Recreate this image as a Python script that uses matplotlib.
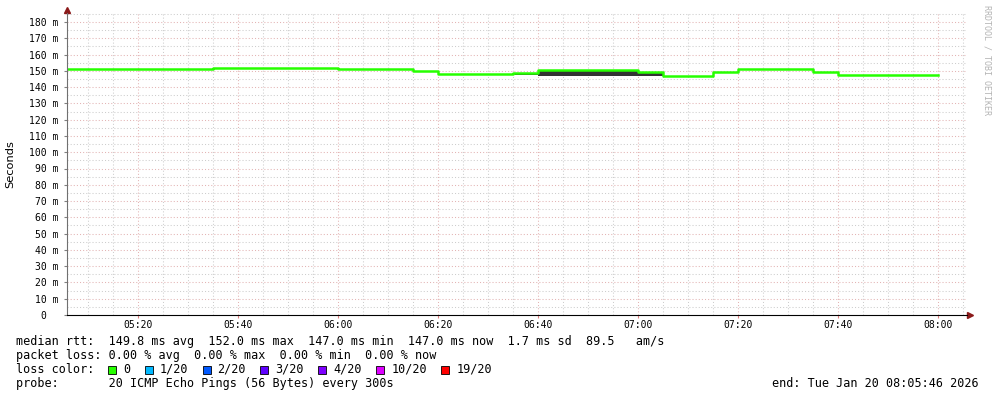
# SmokePing-artiger RRDtool Graph nachbauen
import numpy as np
import matplotlib.pyplot as plt
from matplotlib.patches import Rectangle

W, H = 997, 397

# Intervallstart in Minuten nach 05:00, jeweils 5 Minuten lang
t_start = [5, 10, 15, 20, 25, 30, 35, 40, 45, 50, 55, 60, 65, 70, 75, 80, 85, 90,
           95, 100, 105, 110, 115, 120, 125, 130, 135, 140, 145, 150, 155, 160, 165, 170, 175]
# Median rtt in ms
median_ms = [151, 151, 151, 151, 151, 151, 151.5, 152, 152, 152, 151.5, 151, 151, 151, 150,
             148.3, 148.3, 148.3, 148.5, 150.6, 150.6, 150.6, 150.6, 149, 147.1, 147.1, 149.1,
             151, 151, 151, 149.3, 147.2, 147.2, 147.2, 147.2]
# Rauch (Verteilung der Pings), untere Grenze in ms
smoke_lo = [151, 151, 151, 151, 151, 151, 151.5, 152, 152, 152, 151.5, 151, 151, 151, 150,
            148.3, 148.3, 148.3, 147.3, 146.7, 146.7, 146.7, 146.7, 146.9, 147.1, 147.1, 148.8,
            151, 151, 151, 149.3, 146.9, 147.2, 147.2, 147.2]

x_von, x_bis = 5 + 46 / 60, 185 + 46 / 60   # 05:05:46 bis 08:05:46
x_ticks = [20, 40, 60, 80, 100, 120, 140, 160, 180]
x_labels = ["05:20", "05:40", "06:00", "06:20", "06:40", "07:00", "07:20", "07:40", "08:00"]
y_ticks = list(range(0, 190, 10))

rtt_avg, rtt_max, rtt_min, rtt_now, rtt_sd, am_s = 149.8, 152.0, 147.0, 147.0, 1.7, 89.5
loss_avg, loss_max, loss_min, loss_now = 0.0, 0.0, 0.0, 0.0
loss_labels = ["0", "1/20", "2/20", "3/20", "4/20", "10/20", "19/20"]
loss_colors = ["#26ff00", "#00b8ff", "#0059ff", "#5e00ff", "#7e00ff", "#dd00ff", "#ff0000"]

mono = "DejaVu Sans Mono"

fig = plt.figure(figsize=(W / 100, H / 100), dpi=100)
# Plotbereich in Pixeln: links 67, rechts 967, oben 13, unten 315
ax = fig.add_axes([67 / W, 1 - 315 / H, 900 / W, 302 / H])
ax.set_xlim(x_von, x_bis)
ax.set_ylim(0, 180 * 302 / 293)

# Gitter
punkte = (0, (1, 2))
for m in np.arange(5, 190, 5):
    farbe = "#e3b4b4" if m % 20 == 0 else "#cdcdcd"
    ax.axvline(m, color=farbe, lw=0.75, ls=punkte, zorder=1)
for v in range(5, 190, 5):
    farbe = "#e3b4b4" if v % 10 == 0 else "#cdcdcd"
    ax.axhline(v, color=farbe, lw=0.75, ls=punkte, zorder=1)

# Rauch und Median
t_arr = np.array(t_start + [180])
med = np.array(median_ms + [median_ms[-1]])
lo = np.array(smoke_lo + [smoke_lo[-1]])
ax.fill_between(t_arr, lo, med, step="post", color="#333333", lw=0, zorder=2)
ax.step(t_arr, med, where="post", color=loss_colors[0], lw=1.8, zorder=3)

ax.set_xticks(x_ticks)
ax.set_xticklabels(x_labels, fontsize=7, family=mono)
ax.set_yticks(y_ticks)
ax.set_yticklabels(["0  "] + ["%d m" % v for v in y_ticks[1:]], fontsize=7, family=mono)
ax.tick_params(axis="x", length=2.5, color="#e08080", pad=1)
ax.tick_params(axis="y", length=2, color="#808080", pad=4)
ax.set_ylabel("Seconds", fontsize=8.2, labelpad=10)

for s in ["top", "right"]:
    ax.spines[s].set_visible(False)
ax.spines["left"].set_color("#707070")
ax.spines["bottom"].set_color("#000000")
ax.spines["left"].set_zorder(5)
ax.spines["bottom"].set_zorder(5)

# Pfeile
ax.plot([67 / W], [1 - 10 / H], marker="^", ms=4, color="#8b1a1a", transform=fig.transFigure, clip_on=False)
ax.plot([970 / W], [1 - 315 / H], marker=">", ms=4, color="#8b1a1a", transform=fig.transFigure, clip_on=False)

# Wasserzeichen
fig.text(987 / W, 1 - 60 / H, "RRDTOOL / TOBI OETIKER", rotation=270, fontsize=6,
         family=mono, color="#b4b4b4", ha="center", va="center")

# Legende, Grundlinie etwa 4 px unter der Zeilenmitte
def zeile(x, y, s, **kw):
    fig.text(x / W, 1 - (y + 4) / H, s, fontsize=8.5, family=mono, va="baseline", **kw)

zeile(16, 341, "median rtt:  %.1f ms avg  %.1f ms max  %.1f ms min  %.1f ms now  %.1f ms sd  %.1f   am/s"
      % (rtt_avg, rtt_max, rtt_min, rtt_now, rtt_sd, am_s))
zeile(16, 355, "packet loss: %.2f %% avg  %.2f %% max  %.2f %% min  %.2f %% now"
      % (loss_avg, loss_max, loss_min, loss_now))
zeile(16, 369, "loss color:")
x = 108
for lab, col in zip(loss_labels, loss_colors):
    fig.add_artist(Rectangle((x / W, 1 - 373.5 / H), 8 / W, 8 / H, transform=fig.transFigure,
                             facecolor=col, edgecolor="black", lw=0.6))
    zeile(x + 15, 369, lab)
    x = x + 15 + len(lab) * 7.1 + 14.5
zeile(16, 383, "probe:       20 ICMP Echo Pings (56 Bytes) every 300s")
zeile(979, 383, "end: Tue Jan 20 08:05:46 2026", ha="right")

plt.savefig("out.png", dpi=100)
